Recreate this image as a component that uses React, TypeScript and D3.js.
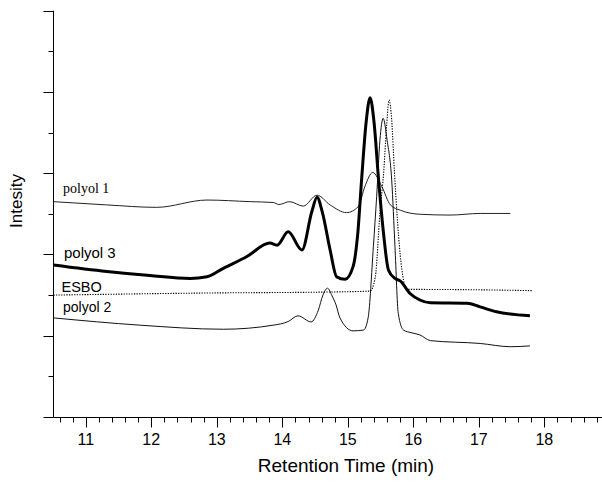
import React from "react";
import * as d3 from "d3";

const W = 602;
const H = 490;

// Axis ticks
const xMajorTicks = [11, 12, 13, 14, 15, 16, 17, 18];
const xTickLabels = ["11", "12", "13", "14", "15", "16", "17", "18"];
const xMinorTicks = d3.range(53, 95).filter((i) => i % 5 !== 0).map((i) => i / 5);
const yMajorTicks = [0, 2, 4, 6, 8, 10];
const yMinorTicks = [1, 3, 5, 7, 9];

// Series: [retention time (min), intensity]
const polyol1: [number, number][] = [
  [10.505, 5.3], [11.32, 5.22], [12.08, 5.16], [12.85, 5.34], [13.51, 5.3],
  [13.86, 5.28], [13.95, 5.23], [14.11, 5.3], [14.32, 5.19], [14.53, 5.46],
  [14.73, 5.22], [14.98, 5.03], [15.16, 5.18], [15.26, 5.67], [15.38, 6.02],
  [15.52, 5.67], [15.65, 5.22], [15.8, 5.09], [16.1, 4.99], [16.56, 4.97],
  [17.02, 5.01], [17.48, 5.01],
];

const polyol3: [number, number][] = [
  [10.505, 3.74], [11.32, 3.58], [11.98, 3.48], [12.59, 3.41], [12.85, 3.45],
  [13.1, 3.66], [13.46, 3.95], [13.81, 4.28], [13.92, 4.23], [14.09, 4.56],
  [14.3, 4.11], [14.45, 5.05], [14.53, 5.41], [14.61, 5.05], [14.73, 4.11],
  [14.83, 3.45], [14.96, 3.39], [15.08, 3.7], [15.15, 4.48], [15.21, 5.83],
  [15.28, 7.26], [15.34, 7.86], [15.4, 7.26], [15.47, 5.83], [15.54, 4.6],
  [15.62, 3.62], [15.72, 3.41], [15.8, 3.35], [15.95, 3.04], [16.1, 2.88],
  [16.26, 2.81], [16.82, 2.8], [17.02, 2.71], [17.27, 2.59], [17.78, 2.49],
];

const esbo: [number, number][] = [
  [10.505, 3.0], [12.74, 3.05], [14.88, 3.08], [15.34, 3.1], [15.42, 3.45],
  [15.49, 5.02], [15.55, 6.08], [15.59, 7.11], [15.63, 7.8], [15.67, 7.31],
  [15.71, 6.08], [15.75, 5.02], [15.8, 3.99], [15.85, 3.37], [15.9, 3.14],
  [16.1, 3.14], [17.02, 3.13], [17.81, 3.11],
];

const polyol2: [number, number][] = [
  [10.505, 2.44], [11.83, 2.26], [13.1, 2.16], [13.86, 2.26], [14.09, 2.35],
  [14.24, 2.49], [14.44, 2.34], [14.55, 2.63], [14.62, 3.0], [14.69, 3.17],
  [14.76, 2.98], [14.82, 2.76], [14.88, 2.44], [15.08, 2.12], [15.24, 2.14],
  [15.31, 2.44], [15.39, 4.19], [15.44, 5.42], [15.49, 6.81], [15.54, 7.35],
  [15.6, 6.81], [15.67, 5.83], [15.72, 4.19], [15.77, 2.55], [15.85, 2.14],
  [15.98, 2.07], [16.1, 2.02], [16.26, 1.88], [17.02, 1.81], [17.48, 1.73],
  [17.78, 1.75],
];

const seriesLabels = ["polyol 1", "polyol 3", "ESBO", "polyol 2"];

const x = d3.scaleLinear().domain([10.5, 18.88]).range([53, 602]);
const y = d3.scaleLinear().domain([0, 10]).range([417, 10.7]);

const line = d3
  .line<[number, number]>()
  .x((d) => x(d[0]))
  .y((d) => y(d[1]))
  .curve(d3.curveMonotoneX);

const sans = "'Liberation Sans', Arial, sans-serif";
const serif = "'Liberation Serif', 'Times New Roman', serif";

export default function App() {
  const axisX = 53.5;
  const axisY = 417.5;
  return (
    <svg
      width={W}
      height={H}
      style={{ position: "absolute", left: 0, top: 0, background: "#fff" }}
    >
      <rect x={0} y={0} width={W} height={H} fill="#fff" />
      {/* Y axis */}
      <line x1={axisX} x2={axisX} y1={y(10)} y2={axisY} stroke="#000" strokeWidth={1} />
      {yMajorTicks.map((v) => (
        <line key={"ym" + v} x1={axisX - 10} x2={axisX} y1={Math.round(y(v)) + 0.5} y2={Math.round(y(v)) + 0.5} stroke="#000" />
      ))}
      {yMinorTicks.map((v) => (
        <line key={"yn" + v} x1={axisX - 5} x2={axisX} y1={Math.round(y(v)) + 0.5} y2={Math.round(y(v)) + 0.5} stroke="#000" />
      ))}
      {/* X axis */}
      <line x1={axisX} x2={W} y1={axisY} y2={axisY} stroke="#000" strokeWidth={1} />
      {xMajorTicks.map((v, i) => (
        <g key={"xm" + v}>
          <line x1={Math.round(x(v)) + 0.5} x2={Math.round(x(v)) + 0.5} y1={axisY} y2={axisY + 10} stroke="#000" />
          <text x={x(v)} y={445} textAnchor="middle" fontFamily={sans} fontSize={16} fill="#000">
            {xTickLabels[i]}
          </text>
        </g>
      ))}
      {xMinorTicks.map((v) => (
        <line key={"xn" + v} x1={Math.round(x(v)) + 0.5} x2={Math.round(x(v)) + 0.5} y1={axisY} y2={axisY + 5} stroke="#000" />
      ))}
      {/* Axis titles */}
      <text x={346} y={472} textAnchor="middle" fontFamily={sans} fontSize={19} fill="#000">
        Retention Time (min)
      </text>
      <text
        transform={`translate(22,201) rotate(-90)`}
        textAnchor="middle"
        fontFamily={sans}
        fontSize={17}
        fill="#000"
      >
        Intesity
      </text>
      {/* Curves */}
      <path d={line(polyol1) || ""} fill="none" stroke="#222" strokeWidth={1} />
      <path d={line(polyol2) || ""} fill="none" stroke="#111" strokeWidth={1} />
      <path d={line(esbo) || ""} fill="none" stroke="#000" strokeWidth={1.1} strokeDasharray="1.3 1.3" />
      <path d={line(polyol3) || ""} fill="none" stroke="#000" strokeWidth={3} strokeLinejoin="round" />
      {/* Series labels */}
      <text x={63} y={193} fontFamily={serif} fontSize={14} fill="#000">{seriesLabels[0]}</text>
      <text x={64} y={258} fontFamily={sans} fontSize={15} fill="#000">{seriesLabels[1]}</text>
      <text x={61.5} y={291.5} fontFamily={sans} fontSize={14.5} fill="#000">{seriesLabels[2]}</text>
      <text x={63} y={311.5} fontFamily={sans} fontSize={14} fill="#000">{seriesLabels[3]}</text>
    </svg>
  );
}
